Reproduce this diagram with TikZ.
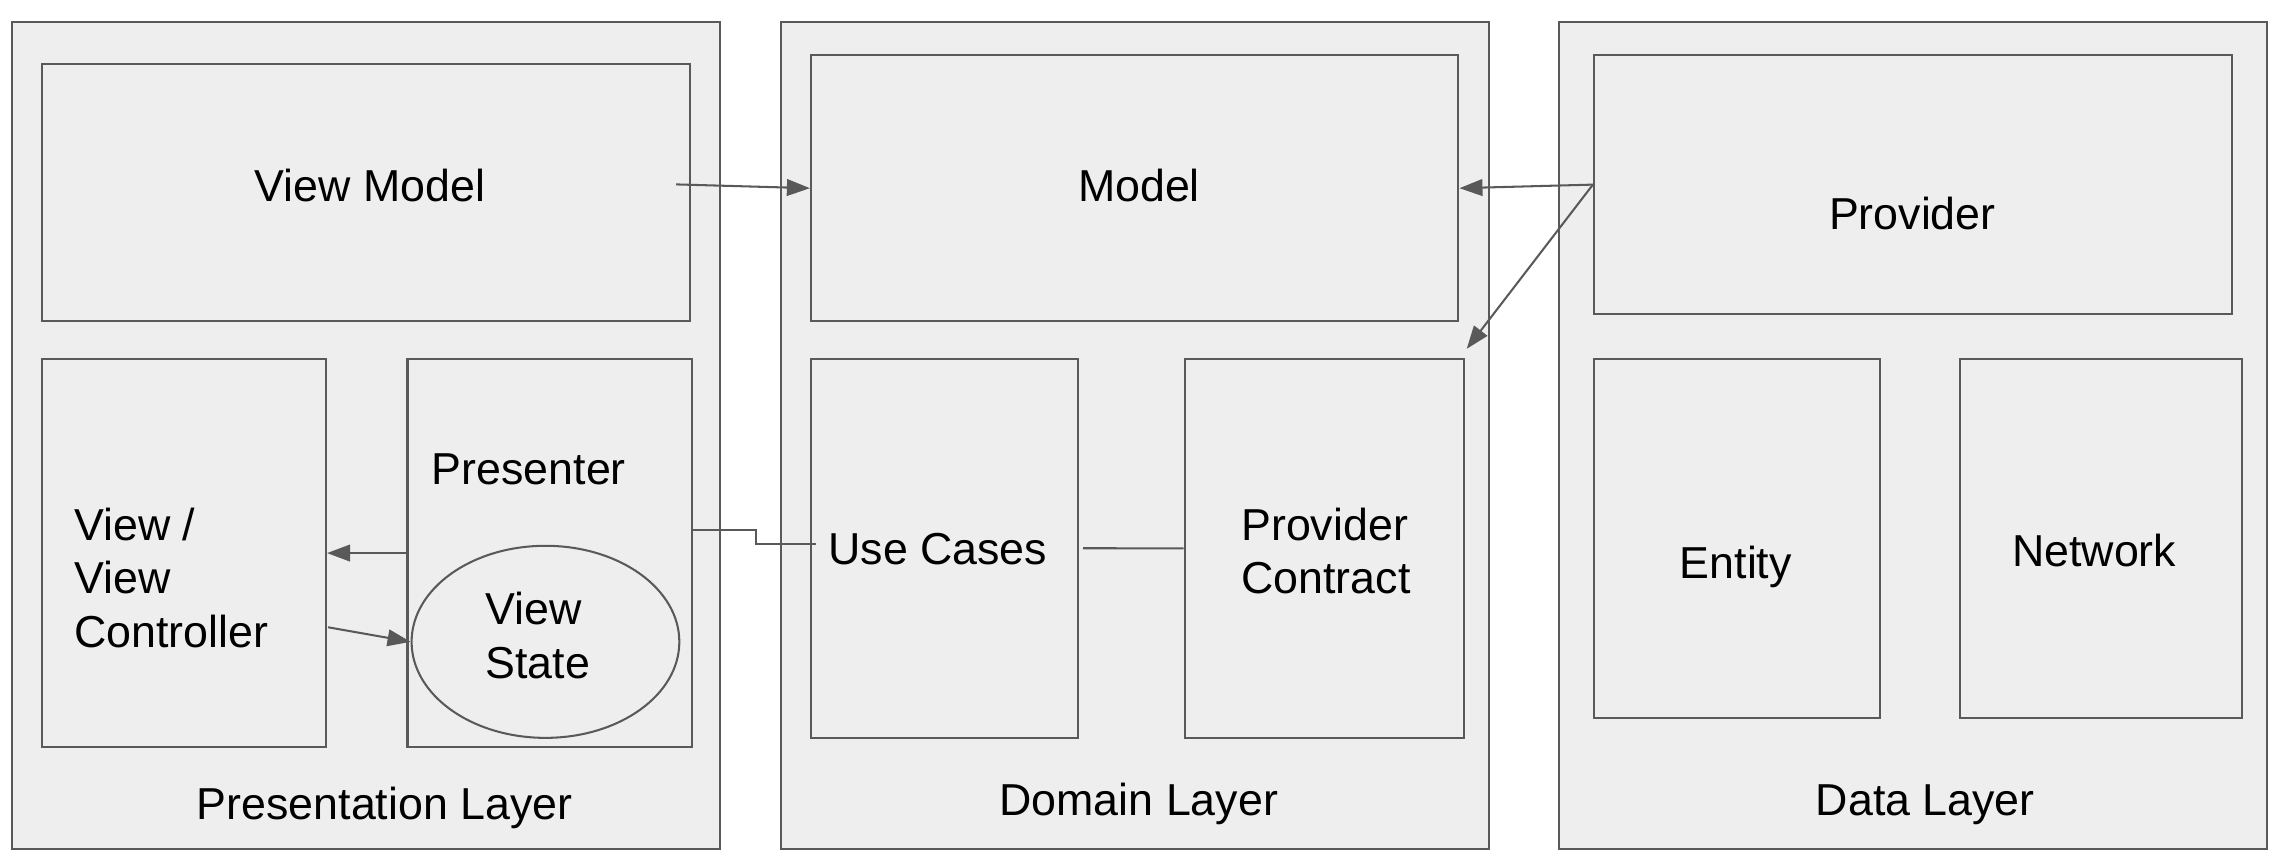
\documentclass[tikz,border=0pt]{standalone}
\usepackage{fontspec}
\setmainfont{Liberation Sans}
\usetikzlibrary{fit,calc,arrows.meta,shapes.geometric}
\definecolor{edgegray}{HTML}{595959}
\definecolor{boxfill}{HTML}{EEEEEE}
\begin{document}
\begin{tikzpicture}[x=0.02cm,y=-0.02cm,
  box/.style={draw=edgegray, fill=boxfill, line width=0.8pt, inner sep=0pt, rectangle},
  lbl/.style={anchor=base west, inner sep=0pt, font=\fontsize{17.5}{21}\selectfont, text=black, align=left},
  conn/.style={draw=edgegray, line width=0.8pt},
  arr/.style={conn, -{Triangle[length=9pt,width=6.5pt]}}]
\useasboundingbox (0,0) rectangle (1568,596);
% layers
\node[box, fit={(8.3,15.2) (494.7,583.5)}] (pres) {};
\node[box, fit={(536.4,15.2) (1022.8,583.5)}] (dom) {};
\node[box, fit={(1071.1,15.2) (1557.9,583.5)}] (data) {};
% presentation
\node[box, fit={(29,43.7) (474,220.6)}] (vm) {};
\node[box, fit={(29,246.5) (224,513.5)}] (vc) {};
\node[box, fit={(280,246.5) (475.5,513.5)}] (pre) {};
\node[draw=edgegray, fill=boxfill, line width=0.8pt, ellipse, inner sep=0pt,
  minimum width=3.68cm, minimum height=2.64cm] (vs) at (374.8,441) {};
% domain
\node[box, fit={(557.2,38) (1002.1,220.6)}] (model) {};
\node[box, fit={(557.2,246.5) (741,507)}] (uc) {};
\node[box, fit={(814,246.5) (1006,507)}] (pc) {};
% data
\node[box, fit={(1095.2,38) (1533.5,215.7)}] (prov) {};
\node[box, fit={(1095.2,246.5) (1291.5,493.5)}] (ent) {};
\node[box, fit={(1346.6,246.5) (1540.2,493.5)}] (net) {};
% labels (base = baseline of the last line)
\node[lbl] (tvm) at (174.8,138.7) {View Model};
\node[lbl] (tvc) at (50.6,444.9) {View /\\View\\Controller};
\node[lbl] (tpre) at (296.4,333) {Presenter};
\node[lbl] (tvs) at (333.3,466.1) {View\\State};
\node[lbl] (tpl) at (134.9,563) {Presentation Layer};
\node[lbl] (tmodel) at (740.4,138.7) {Model};
\node[lbl] (tuc) at (568.8,388) {Use Cases};
\node[lbl] (tpc) at (852.6,408) {Provider\\Contract};
\node[lbl] (tdl) at (686.4,560) {Domain Layer};
\node[lbl] (tprov) at (1256.4,158) {Provider};
\node[lbl] (tent) at (1153.9,397.5) {Entity};
\node[lbl] (tnet) at (1382.2,389) {Network};
\node[lbl] (tdata) at (1247.4,560) {Data Layer};
% connector ends
\coordinate (vmout) at (464.5,126.7);
\coordinate (vcout) at (225.4,431);
\coordinate (pctip) at (1007.8,239.7);
\coordinate (preout) at (476.4,364.2);
\coordinate (ucin) at (561,374);
\coordinate (ucout) at (744.3,376.7);
% connectors
\draw[arr] (vmout) -- (model.west);
\draw[arr] (prov.west) -- (model.east);
\draw[arr] (prov.west) -- (pctip);
\draw[arr] (pre.west) -- (vc.east);
\draw[arr] (vcout) -- (vs.west);
\draw[conn] (preout) -- (519.2,364.2) -- (519.2,374) -- (ucin);
\draw[conn] (ucout) -- (pc.west);
\end{tikzpicture}
\end{document}
